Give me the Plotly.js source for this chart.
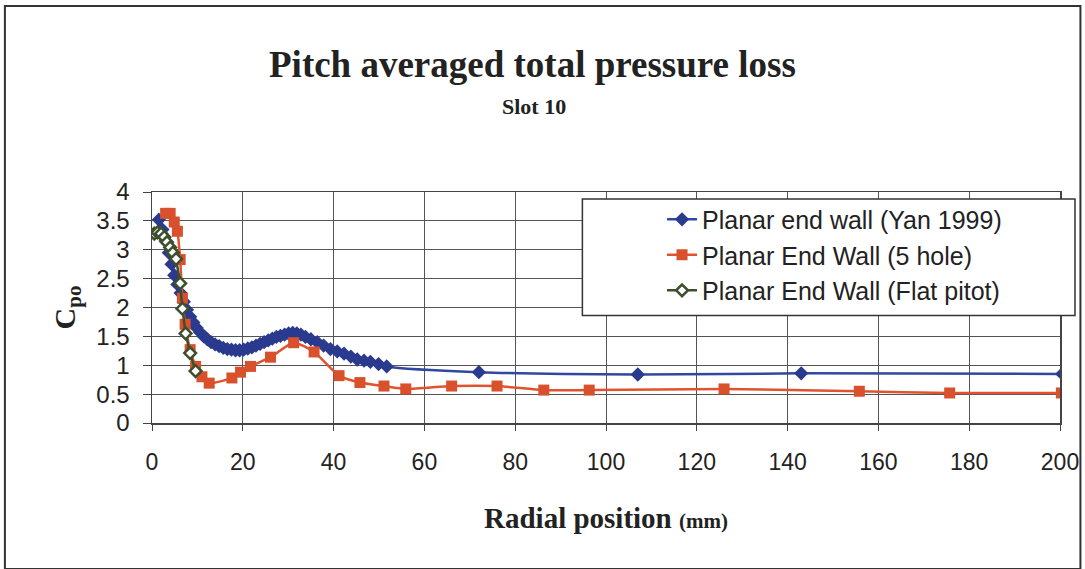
<!DOCTYPE html>
<html>
<head>
<meta charset="utf-8">
<script src="https://cdn.plot.ly/plotly-3.0.1.min.js"></script>
<style>
html,body{margin:0;padding:0;background:#fff;}
#chart{width:1085px;height:569px;}
</style>
</head>
<body>
<div id="chart"></div>
<script>
// Planar end wall (Yan 1999)
const yanX = [1.5,2.3,3.0,3.7,4.3,4.9,5.6,6.3,7.0,7.7,8.4,9.1,9.8,10.6,11.4,12.2,13.0,13.9,14.8,15.7,16.6,17.5,18.4,19.3,20.2,21.1,22.0,22.9,23.8,24.7,25.6,26.5,27.4,28.3,29.2,30.1,31.0,31.9,32.8,33.8,35.0,36.4,37.8,39.3,40.8,42.3,43.8,45.2,46.7,48.1,49.9,51.7,72,107,143,200.5];
const yanY = [3.52,3.35,3.15,2.95,2.75,2.56,2.40,2.25,2.10,1.96,1.84,1.74,1.65,1.57,1.50,1.45,1.40,1.36,1.33,1.30,1.28,1.27,1.26,1.26,1.27,1.29,1.31,1.34,1.37,1.40,1.43,1.46,1.49,1.51,1.53,1.55,1.56,1.55,1.53,1.49,1.45,1.40,1.34,1.28,1.24,1.20,1.15,1.10,1.08,1.06,1.02,0.98,0.88,0.84,0.86,0.85];
// Planar End Wall (5 hole)
const holeX = [3.0,4.0,4.9,5.6,6.2,6.7,7.3,8.4,9.6,11.0,12.6,17.6,19.5,21.7,26.1,31.2,35.7,41.2,45.8,51.1,55.9,66.0,76.0,86.3,96.3,126,155.8,175.7,200.3];
const holeY = [3.63,3.63,3.48,3.32,2.83,2.16,1.71,1.27,0.98,0.80,0.69,0.78,0.88,0.98,1.14,1.39,1.23,0.82,0.70,0.64,0.59,0.64,0.64,0.57,0.57,0.59,0.55,0.52,0.52];
// Planar End Wall (Flat pitot)
const pitotX = [0.5,1.2,2.0,2.7,3.3,4.0,4.6,5.3,6.2,6.7,7.4,8.4,9.6];
const pitotY = [3.28,3.30,3.28,3.22,3.13,3.04,2.95,2.84,2.42,1.98,1.55,1.21,0.90];

const xTicks = [0,20,40,60,80,100,120,140,160,180,200];
const yTicks = [0,0.5,1,1.5,2,2.5,3,3.5,4];

const titleText = 'Pitch averaged total pressure loss';
const subtitleText = 'Slot 10';

const traces = [
  {x: yanX, y: yanY, name: 'Planar end wall (Yan 1999)', type: 'scatter', mode: 'lines+markers',
   line: {color: '#3048A0', width: 2.5, shape: 'spline', smoothing: 0.8},
   marker: {symbol: 'diamond', size: 11, color: '#2A3A8E'}, legendgroup: 'a'},
  {x: holeX, y: holeY, name: 'Planar End Wall (5 hole)', type: 'scatter', mode: 'lines+markers',
   line: {color: '#E0532E', width: 2.5, shape: 'spline', smoothing: 0.6},
   marker: {symbol: 'square', size: 11, color: '#D9502C'}, legendgroup: 'b'},
  {x: pitotX, y: pitotY, name: 'Planar End Wall (Flat pitot)', type: 'scatter', mode: 'lines+markers',
   line: {color: '#3D4F2C', width: 2.5},
   marker: {symbol: 'diamond', size: 9, color: '#ffffff', line: {color: '#3D4F2C', width: 2.5}}, legendgroup: 'c'}
];

const serif = 'Liberation Serif, Times New Roman, serif';
const sans = 'Liberation Sans, Arial, sans-serif';

const layout = {
  width: 1085, height: 569,
  paper_bgcolor: '#ffffff', plot_bgcolor: '#ffffff',
  margin: {l: 152, r: 25, t: 192, b: 146},
  showlegend: true,
  annotations: [
    {text: '<b>' + titleText + '</b>', xref: 'paper', yref: 'paper', x: 0.419, y: 1.55,
     xanchor: 'center', yanchor: 'middle', showarrow: false,
     font: {family: serif, size: 37, color: '#222'}},
    {text: '<b>' + subtitleText + '</b>', xref: 'paper', yref: 'paper', x: 0.421, y: 1.372,
     xanchor: 'center', yanchor: 'middle', showarrow: false,
     font: {family: serif, size: 22, color: '#222'}}
  ],
  xaxis: {
    range: [0, 200], tickvals: xTicks, ticktext: xTicks.map(String),
    showgrid: true, gridcolor: '#555', gridwidth: 1,
    showline: true, linecolor: '#444', linewidth: 1.5, mirror: true,
    ticks: 'outside', ticklen: 6, tickcolor: '#444', ticklabelstandoff: 12,
    zeroline: false,
    tickfont: {family: sans, size: 23, color: '#222'},
    title: {text: '<b>Radial position <span style="font-size:21px">(mm)</span></b>',
      font: {family: serif, size: 29, color: '#222'}, standoff: 33}
  },
  yaxis: {
    range: [0, 4], tickvals: yTicks, ticktext: yTicks.map(String),
    showgrid: true, gridcolor: '#555', gridwidth: 1,
    showline: true, linecolor: '#444', linewidth: 1.5, mirror: true,
    ticks: 'outside', ticklen: 8, tickcolor: '#444', ticklabelstandoff: 8,
    zeroline: false,
    tickfont: {family: sans, size: 24, color: '#222'},
    title: {text: '<b>C<sub>po</sub></b>',
      font: {family: serif, size: 30, color: '#222'}, standoff: 12}
  },
  legend: {
    x: 0.5617, xanchor: 'left', y: 0.98, yanchor: 'top',
    bgcolor: 'rgba(0,0,0,0)', borderwidth: 0,
    font: {family: sans, size: 25, color: '#222'},
    tracegroupgap: 0, itemwidth: 30
  },
  shapes: [
    {type: 'rect', xref: 'paper', yref: 'paper', x0: 0.474, x1: 1.0165, y0: 0.465, y1: 0.97,
     fillcolor: '#ffffff', line: {color: '#333', width: 1.5}, layer: 'above'},
    {type: 'rect', xref: 'paper', yref: 'paper', x0: -0.162, x1: 1.0225, y0: -0.632, y1: 1.805,
     fillcolor: 'rgba(0,0,0,0)', line: {color: '#333', width: 2}}
  ]
};

Plotly.newPlot('chart', traces, layout, {displayModeBar: false, staticPlot: true});
</script>
</body>
</html>
